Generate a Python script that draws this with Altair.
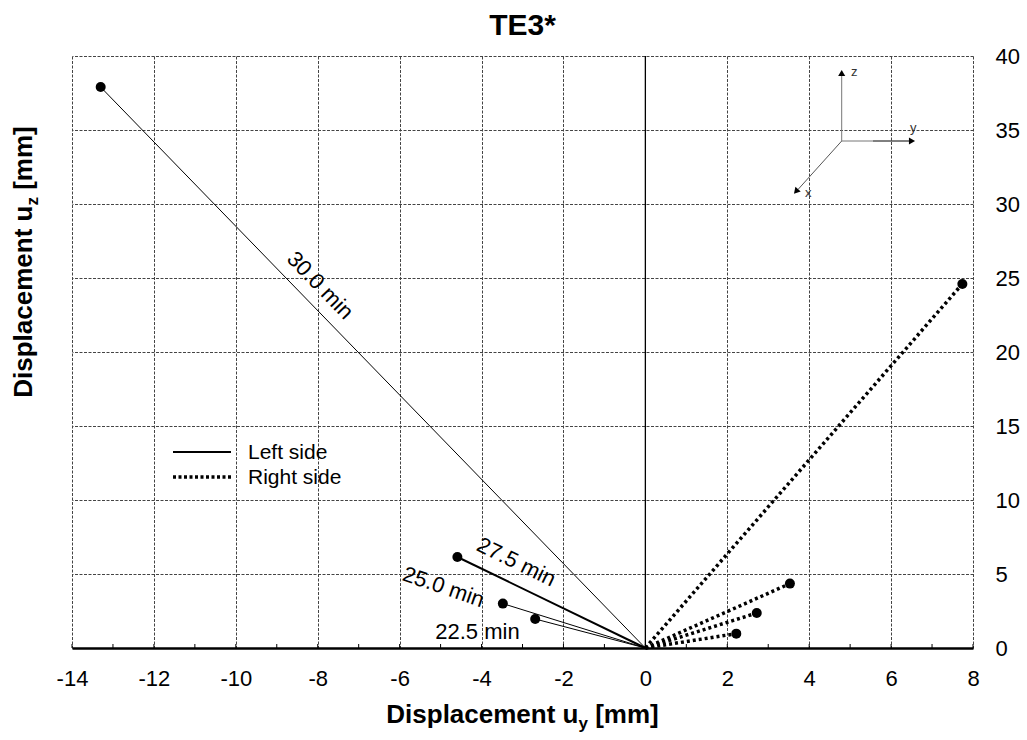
import altair as alt
import pandas as pd

# Measurement times and end displacements of the two sides (mm)
times = [22.5, 25.0, 27.5, 30.0]
left_uy = [-2.69, -3.48, -4.59, -13.3]
left_uz = [1.96, 3.0, 6.15, 37.9]
right_uy = [2.22, 2.72, 3.53, 7.74]
right_uz = [0.97, 2.36, 4.35, 24.6]

# Time labels written along the left-side vectors
label_uy = [-4.10, -4.93, -3.15, -7.94]
label_uz = [1.08, 4.12, 5.81, 24.5]
label_angle = [0, 19, 26, 46]

x_ticks = list(range(-14, 9, 2))
y_ticks = list(range(0, 41, 5))
minor_ticks = list(range(-14, 9))

W, H = 901, 592
FONT = "Liberation Sans"
GRID = dict(grid=True, gridDash=[3, 1.5], gridColor="#444444", gridWidth=1)

rows = []
for side, uys, uzs in (("Left side", left_uy, left_uz), ("Right side", right_uy, right_uz)):
    for t, uy, uz in zip(times, uys, uzs):
        rows.append({"side": side, "time": t, "order": 0, "uy": 0.0, "uz": 0.0})
        rows.append({"side": side, "time": t, "order": 1, "uy": uy, "uz": uz})
vectors = pd.DataFrame(rows)
ends = vectors[vectors["order"] == 1]

labels = pd.DataFrame({
    "uy": label_uy,
    "uz": label_uz,
    "angle": label_angle,
    "text": [f"{t:.1f} min" for t in times],
})

X = alt.X(
    "uy:Q",
    scale=alt.Scale(domain=[-14, 8], nice=False, zero=False),
    axis=alt.Axis(
        values=x_ticks, ticks=False, domain=True, domainColor="black", domainWidth=2.5,
        labelFont=FONT, labelFontSize=22, labelColor="black", labelPadding=20,
        labelExpr="'' + datum.value",
        labelFlush=False, labelOverlap=False, title=None, **GRID,
    ),
)
Y = alt.Y(
    "uz:Q",
    scale=alt.Scale(domain=[0, 40], nice=False),
    axis=alt.Axis(
        orient="right", values=y_ticks, ticks=False, domain=False,
        labelFont=FONT, labelFontSize=22, labelColor="black", labelPadding=22,
        labelFlush=False, labelOverlap=False, title=None, **GRID,
    ),
)

one = pd.DataFrame({"k": [0]})


def seg(x1, y1, x2, y2, color="black", width=1.0, dash=None):
    kw = dict(color=color, strokeWidth=width)
    if dash:
        kw["strokeDash"] = dash
    return alt.Chart(one).mark_rule(**kw).encode(
        x=alt.value(x1), y=alt.value(y1), x2=alt.value(x2), y2=alt.value(y2)
    )


def txt(s, x, y, size, bold=False, angle=0, align="left", baseline="alphabetic", color="black"):
    kw = dict(text=s, font=FONT, fontSize=size, align=align, baseline=baseline, color=color)
    if bold:
        kw["fontWeight"] = "bold"
    if angle:
        kw["angle"] = angle
    return alt.Chart(one).mark_text(**kw).encode(x=alt.value(x), y=alt.value(y))


def head(x, y, angle):
    return alt.Chart(one).mark_point(
        shape="triangle-up", filled=True, size=50, color="black", opacity=1, angle=angle
    ).encode(x=alt.value(x), y=alt.value(y))


base = alt.Chart(vectors).mark_line(opacity=0).encode(x=X, y=Y, detail="time:N")

zero_line = alt.Chart(pd.DataFrame({"uy": [0.0]})).mark_rule(
    color="black", strokeWidth=1.3
).encode(x=X)

inner_ticks = alt.Chart(pd.DataFrame({"uy": minor_ticks})).mark_rule(
    color="black", strokeWidth=1
).encode(x=X, y=alt.value(H), y2=alt.value(H - 4))

left_lines = alt.Chart(vectors).transform_filter(
    "datum.side == 'Left side'"
).mark_line(color="black").encode(
    x=X, y=Y, detail="time:N", order="order:Q",
    strokeWidth=alt.condition("datum.time == 27.5", alt.value(2), alt.value(1)),
)

right_lines = alt.Chart(vectors).transform_filter(
    "datum.side == 'Right side'"
).mark_line(color="black", strokeWidth=3.5, strokeDash=[3, 3], strokeCap="butt").encode(
    x=X, y=Y, detail="time:N", order="order:Q"
)

points = alt.Chart(ends).mark_circle(size=100, color="black", opacity=1).encode(x=X, y=Y)

time_labels = alt.Chart(labels).mark_text(
    font=FONT, fontSize=22, align="center", baseline="middle", color="black"
).encode(x=X, y=Y, text="text:N", angle=alt.Angle("angle:Q", scale=None))

# Legend
legend = [
    seg(101, 396, 159, 396, width=2),
    seg(101, 421, 159, 421, width=3.5, dash=[3, 2.5]),
    txt("Left side", 176, 397, 21, baseline="middle"),
    txt("Right side", 176, 422, 21, baseline="middle"),
]

# Coordinate-system sketch
ox, oy = 769.7, 85
inset = [
    seg(ox, oy, ox, 18, color="#777777"),
    seg(ox, oy, 801, oy, color="#777777"),
    seg(801, oy, 839, oy, color="black"),
    seg(ox, oy, 726, 133.5, color="#555555"),
    head(ox, 17, 0),
    head(840, oy, 90),
    head(724, 135.5, 222),
    txt("z", 779, 20, 13, color="#333333"),
    txt("y", 838, 76, 13, color="#333333"),
    txt("x", 733, 141, 13, color="#333333"),
]

# Titles with subscripted axis symbols (Liberation Sans Bold advance widths, 1/1000 em)
MAIN_W, UNITS_W, SPACE_W = 7391, 2444, 278
tfs, sfs = 26, 17

x_main = MAIN_W * tfs / 1000
x_sub = 556 * sfs / 1000
x_total = x_main + x_sub + (SPACE_W + UNITS_W) * tfs / 1000
x_start = W / 2 - x_total / 2
x_base = 667

y_main = MAIN_W * tfs / 1000
y_sub = 500 * sfs / 1000
y_total = y_main + y_sub + (SPACE_W + UNITS_W) * tfs / 1000
y_center = 206
y_start = y_center + y_total / 2
y_base = -40

titles = [
    txt("TE3*", W / 2, -21, 30, bold=True, align="center"),
    txt("Displacement u", x_start, x_base, tfs, bold=True),
    txt("y", x_start + x_main, x_base + 6, sfs, bold=True),
    txt("[mm]", x_start + x_main + x_sub + SPACE_W * tfs / 1000, x_base, tfs, bold=True),
    txt("Displacement u", y_base, y_start, tfs, bold=True, angle=270),
    txt("z", y_base + 6, y_start - y_main, sfs, bold=True, angle=270),
    txt("[mm]", y_base, y_start - y_main - y_sub - SPACE_W * tfs / 1000, tfs, bold=True, angle=270),
]

chart = alt.layer(
    base, zero_line, inner_ticks, left_lines, right_lines, points, time_labels,
    *legend, *inset, *titles,
).properties(
    width=W,
    height=H,
    padding={"left": 72, "top": 56, "right": 54, "bottom": 92},
    autosize=alt.AutoSizeParams(type="none"),
    background="white",
).configure_view(strokeWidth=0)

chart.save("out.html", embed_options={"renderer": "svg", "actions": False})
